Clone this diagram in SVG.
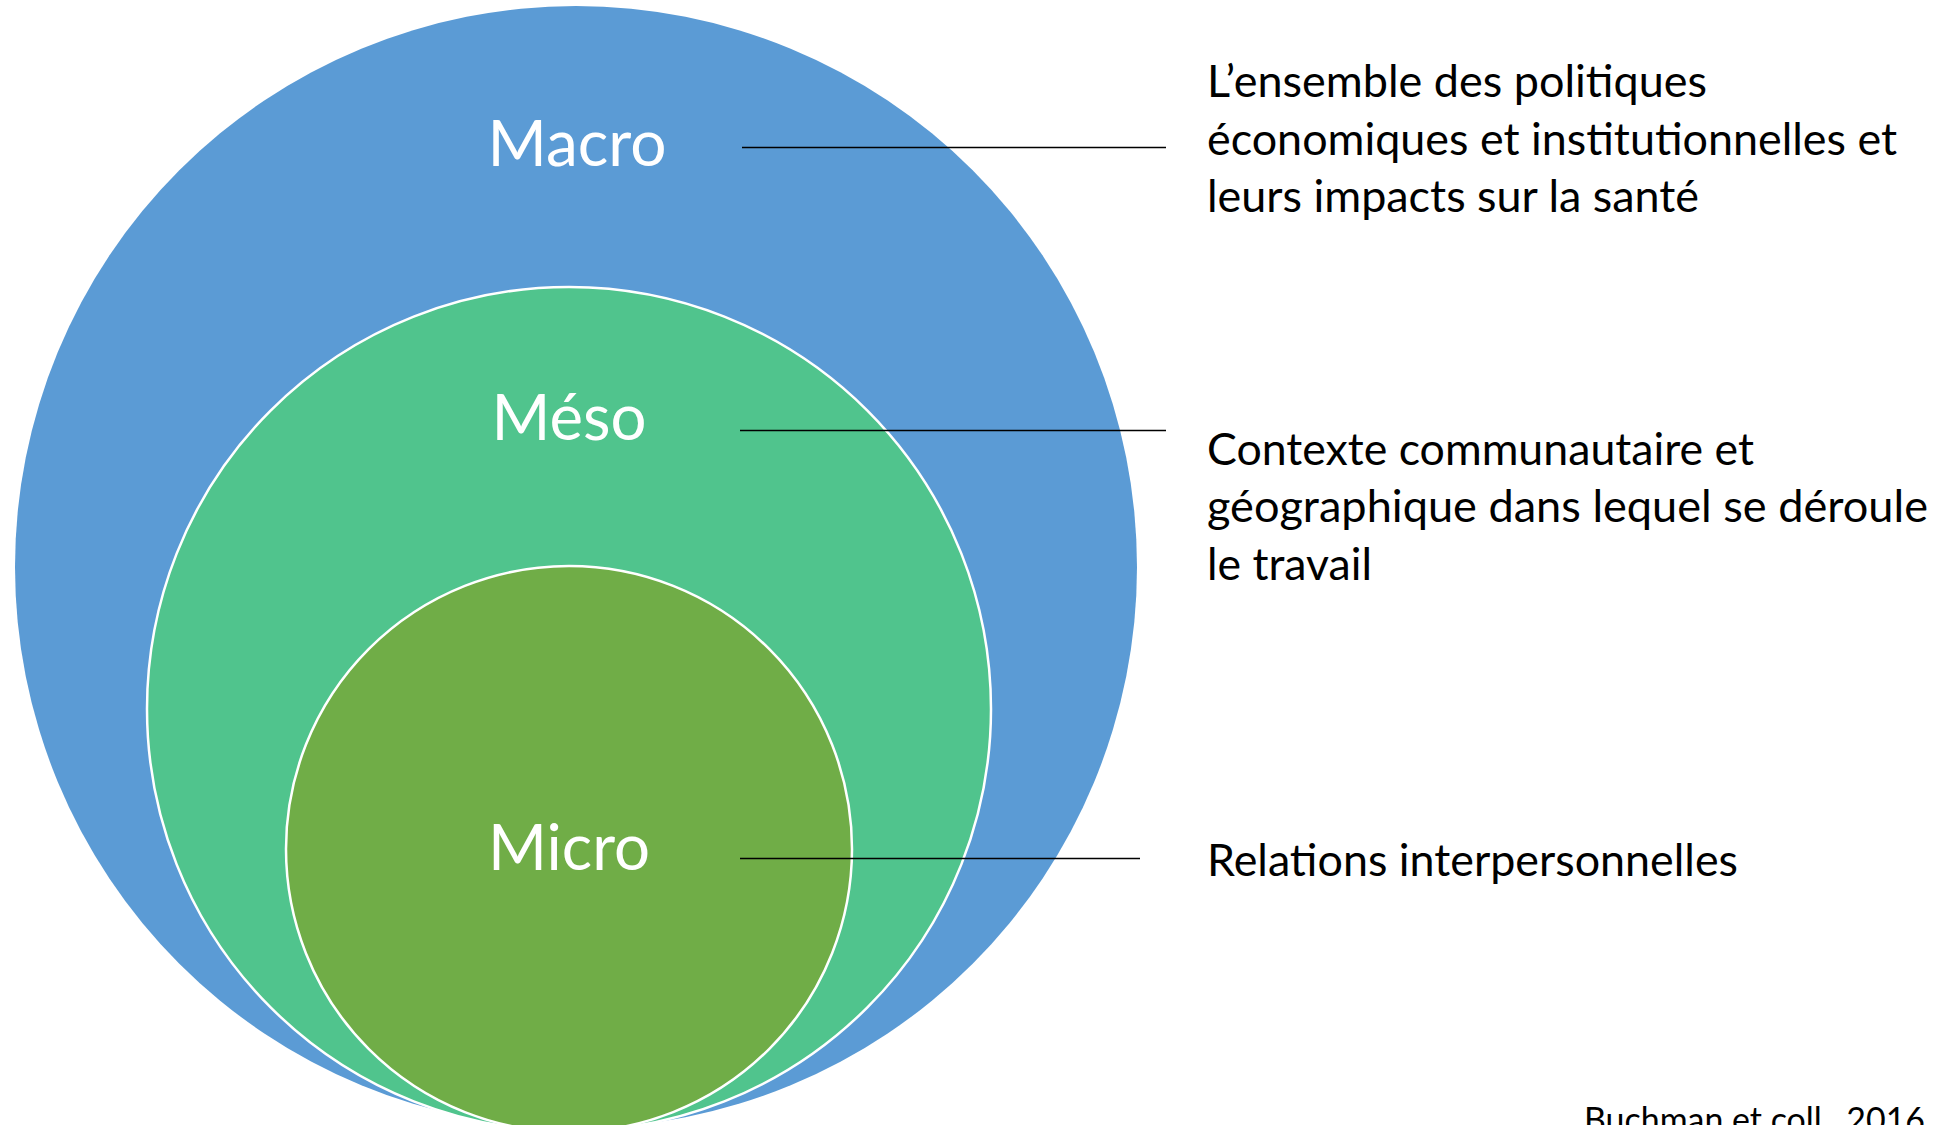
<svg xmlns="http://www.w3.org/2000/svg" width="1954" height="1125" viewBox="0 0 1954 1125">
  <style>
    .lbl { font-family: Lato, "Open Sans", "Liberation Sans", sans-serif; fill: #FFFFFF; font-size: 63px; text-anchor: middle; }
    .desc { font-family: Lato, "Open Sans", "Liberation Sans", sans-serif; fill: #000000; font-size: 44px; }
    .cite { font-family: Lato, "Open Sans", "Liberation Sans", sans-serif; fill: #000000; font-size: 35px; }
    .conn { stroke: #000000; stroke-width: 1.5; fill: none; }
  </style>
  <rect x="0" y="0" width="1954" height="1125" fill="#FFFFFF"/>
  <g id="macro">
    <circle cx="576" cy="567" r="561" fill="#5B9BD5"/>
    <text class="lbl" x="577" y="166" textLength="179" lengthAdjust="spacingAndGlyphs">Macro</text>
  </g>
  <g id="meso">
    <circle cx="569" cy="709" r="422" fill="#50C48D" stroke="#FFFFFF" stroke-width="2.5"/>
    <text class="lbl" x="569" y="440" textLength="155" lengthAdjust="spacingAndGlyphs">Méso</text>
  </g>
  <g id="micro">
    <circle cx="569" cy="849" r="283" fill="#70AD47" stroke="#FFFFFF" stroke-width="2.5"/>
    <text class="lbl" x="569" y="870" textLength="162" lengthAdjust="spacingAndGlyphs">Micro</text>
  </g>
  <g id="connectors">
    <line class="conn" x1="742" y1="147.5" x2="1166" y2="147.5"/>
    <line class="conn" x1="740" y1="430.5" x2="1166" y2="430.5"/>
    <line class="conn" x1="740" y1="858.5" x2="1140" y2="858.5"/>
  </g>
  <g id="desc-macro">
    <text class="desc" x="1207" y="97" textLength="500" lengthAdjust="spacingAndGlyphs">L’ensemble des politiques</text>
    <text class="desc" x="1207" y="154.5" textLength="690" lengthAdjust="spacingAndGlyphs">économiques et institutionnelles et</text>
    <text class="desc" x="1207" y="212" textLength="492" lengthAdjust="spacingAndGlyphs">leurs impacts sur la santé</text>
  </g>
  <g id="desc-meso">
    <text class="desc" x="1207" y="464.5" textLength="547" lengthAdjust="spacingAndGlyphs">Contexte communautaire et</text>
    <text class="desc" x="1207" y="522" textLength="721" lengthAdjust="spacingAndGlyphs">géographique dans lequel se déroule</text>
    <text class="desc" x="1207" y="579.5" textLength="165" lengthAdjust="spacingAndGlyphs">le travail</text>
  </g>
  <g id="desc-micro">
    <text class="desc" x="1207" y="876" textLength="531" lengthAdjust="spacingAndGlyphs">Relations interpersonnelles</text>
  </g>
  <g id="citation">
    <text class="cite" x="1584" y="1132" textLength="341" lengthAdjust="spacingAndGlyphs">Buchman et coll., 2016</text>
  </g>
</svg>
